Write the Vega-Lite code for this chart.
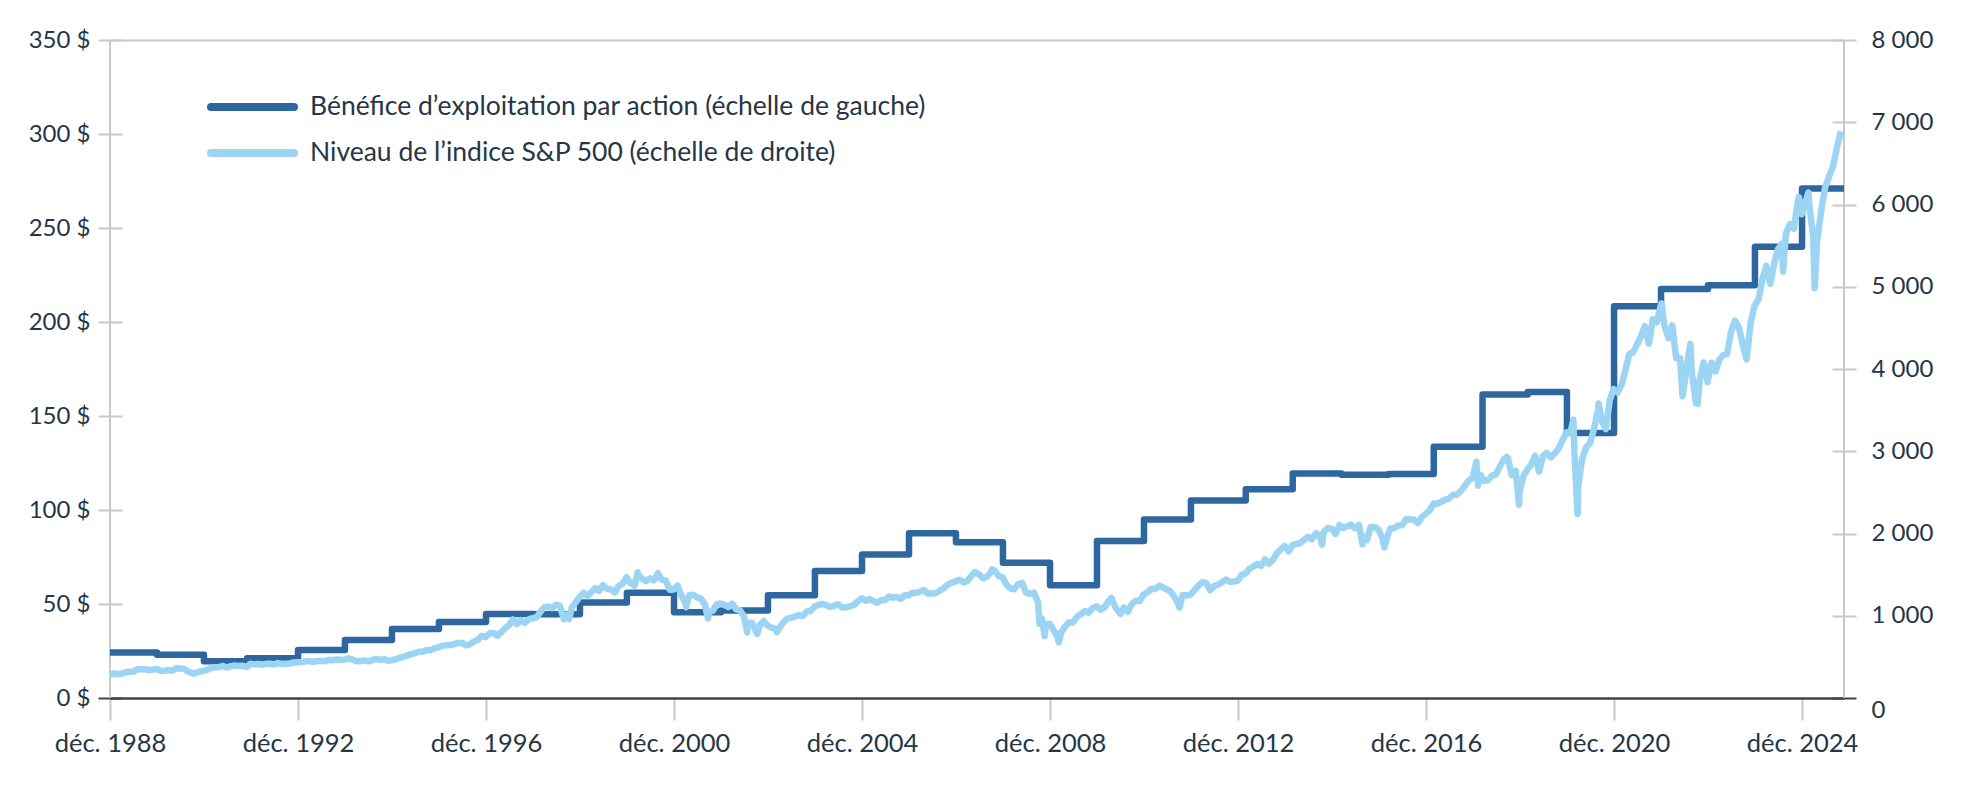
{
 "$schema": "https://vega.github.io/schema/vega-lite/v6.json",
 "width": 1734,
 "height": 658,
 "autosize": {"type": "none"},
 "padding": {"left": 110, "top": 40, "right": 138, "bottom": 92},
 "background": "white",
 "config": {
  "view": {"stroke": null},
  "font": "Lato",
  "axis": {"labelFont": "Lato", "labelFontSize": 24, "labelColor": "#263646", "title": null}
 },
 "datasets": {
  "frame": [{"date": "1988-12-31"}, {"date": "2025-11-22"}],
  "eps": [
   {"date": "1988-12-31", "eps": 24.2},
   {"date": "1989-12-31", "eps": 23},
   {"date": "1990-12-31", "eps": 19.6},
   {"date": "1991-12-01", "eps": 21.2},
   {"date": "1992-12-31", "eps": 25.5},
   {"date": "1993-12-31", "eps": 30.8},
   {"date": "1994-12-31", "eps": 36.7},
   {"date": "1995-12-31", "eps": 40.4},
   {"date": "1996-12-31", "eps": 44.7},
   {"date": "1997-12-31", "eps": 44.6},
   {"date": "1998-12-31", "eps": 50.8},
   {"date": "1999-12-31", "eps": 56},
   {"date": "2000-12-31", "eps": 45.6},
   {"date": "2001-12-31", "eps": 46.6},
   {"date": "2002-12-31", "eps": 54.6},
   {"date": "2003-12-31", "eps": 67.5},
   {"date": "2004-12-31", "eps": 76.3},
   {"date": "2005-12-31", "eps": 87.6},
   {"date": "2006-12-31", "eps": 82.8},
   {"date": "2007-12-31", "eps": 72},
   {"date": "2008-12-31", "eps": 60},
   {"date": "2009-12-31", "eps": 83.5},
   {"date": "2010-12-31", "eps": 95},
   {"date": "2011-12-31", "eps": 105},
   {"date": "2013-03-01", "eps": 111},
   {"date": "2014-03-01", "eps": 119.4},
   {"date": "2015-03-15", "eps": 118.8},
   {"date": "2016-03-15", "eps": 119.2},
   {"date": "2017-03-01", "eps": 133.6},
   {"date": "2018-03-15", "eps": 161.5},
   {"date": "2019-03-01", "eps": 162.7},
   {"date": "2019-12-31", "eps": 141},
   {"date": "2020-12-31", "eps": 208.4},
   {"date": "2021-12-31", "eps": 217.6},
   {"date": "2022-12-31", "eps": 219.5},
   {"date": "2023-12-31", "eps": 240},
   {"date": "2024-12-31", "eps": 271},
   {"date": "2025-11-22", "eps": 271}
  ],
  "spx": [
   {"date":"1988-12-31","spx":277.7},
   {"date":"1989-01-28","spx":297.5},{"date":"1989-02-28","spx":288.9},{"date":"1989-03-28","spx":294.9},{"date":"1989-04-28","spx":309.6},{"date":"1989-05-28","spx":320.5},{"date":"1989-06-28","spx":318.0},{"date":"1989-07-28","spx":346.1},{"date":"1989-08-28","spx":351.5},{"date":"1989-09-28","spx":349.2},{"date":"1989-10-28","spx":340.4},{"date":"1989-11-28","spx":346.0},{"date":"1989-12-28","spx":353.4},
   {"date":"1990-01-28","spx":329.1},{"date":"1990-02-28","spx":331.9},{"date":"1990-03-28","spx":339.9},{"date":"1990-04-28","spx":330.8},{"date":"1990-05-28","spx":361.2},{"date":"1990-06-28","spx":358.0},{"date":"1990-07-28","spx":356.2},{"date":"1990-08-28","spx":322.6},{"date":"1990-09-28","spx":306.1},{"date":"1990-10-11","spx":295.5},{"date":"1990-10-28","spx":304.0},{"date":"1990-11-28","spx":322.2},{"date":"1990-12-28","spx":330.2},
   {"date":"1991-01-28","spx":343.9},{"date":"1991-02-28","spx":367.1},{"date":"1991-03-28","spx":375.2},{"date":"1991-04-28","spx":375.3},{"date":"1991-05-28","spx":389.8},{"date":"1991-06-28","spx":371.2},{"date":"1991-07-28","spx":387.8},{"date":"1991-08-28","spx":395.4},{"date":"1991-09-28","spx":387.9},{"date":"1991-10-28","spx":392.5},{"date":"1991-11-28","spx":375.2},{"date":"1991-12-28","spx":417.1},
   {"date":"1992-01-28","spx":408.8},{"date":"1992-02-28","spx":412.7},{"date":"1992-03-28","spx":403.7},{"date":"1992-04-28","spx":415.0},{"date":"1992-05-28","spx":415.4},{"date":"1992-06-28","spx":408.1},{"date":"1992-07-28","spx":424.2},{"date":"1992-08-28","spx":414.0},{"date":"1992-09-28","spx":417.8},{"date":"1992-10-28","spx":418.7},{"date":"1992-11-28","spx":431.4},{"date":"1992-12-28","spx":435.7},
   {"date":"1993-01-28","spx":438.8},{"date":"1993-02-28","spx":443.4},{"date":"1993-03-28","spx":451.7},{"date":"1993-04-28","spx":440.2},{"date":"1993-05-28","spx":450.2},{"date":"1993-06-28","spx":451.0},{"date":"1993-07-28","spx":448.1},{"date":"1993-08-28","spx":463.6},{"date":"1993-09-28","spx":458.9},{"date":"1993-10-28","spx":467.8},{"date":"1993-11-28","spx":461.8},{"date":"1993-12-28","spx":466.5},
   {"date":"1994-01-28","spx":481.6},{"date":"1994-02-28","spx":467.1},{"date":"1994-03-28","spx":445.8},{"date":"1994-04-28","spx":450.9},{"date":"1994-05-28","spx":456.5},{"date":"1994-06-28","spx":444.3},{"date":"1994-07-28","spx":458.3},{"date":"1994-08-28","spx":475.5},{"date":"1994-09-28","spx":462.7},{"date":"1994-10-28","spx":472.4},{"date":"1994-11-28","spx":453.7},{"date":"1994-12-28","spx":459.3},
   {"date":"1995-01-28","spx":470.4},{"date":"1995-02-28","spx":487.4},{"date":"1995-03-28","spx":500.7},{"date":"1995-04-28","spx":514.7},{"date":"1995-05-28","spx":533.4},{"date":"1995-06-28","spx":544.8},{"date":"1995-07-28","spx":562.1},{"date":"1995-08-28","spx":561.9},{"date":"1995-09-28","spx":584.4},{"date":"1995-10-28","spx":581.5},{"date":"1995-11-28","spx":605.4},{"date":"1995-12-28","spx":615.9},
   {"date":"1996-01-28","spx":636.0},{"date":"1996-02-28","spx":640.4},{"date":"1996-03-28","spx":645.5},{"date":"1996-04-28","spx":654.2},{"date":"1996-05-28","spx":669.1},{"date":"1996-06-28","spx":670.6},{"date":"1996-07-28","spx":640.0},{"date":"1996-08-28","spx":652.0},{"date":"1996-09-28","spx":687.3},{"date":"1996-10-28","spx":705.3},{"date":"1996-11-28","spx":757.0},{"date":"1996-12-28","spx":740.7},
   {"date":"1997-01-28","spx":786.2},{"date":"1997-02-28","spx":790.8},{"date":"1997-03-28","spx":757.1},{"date":"1997-04-28","spx":801.3},{"date":"1997-05-28","spx":848.3},{"date":"1997-06-28","spx":885.1},{"date":"1997-07-28","spx":954.3},{"date":"1997-08-28","spx":899.5},{"date":"1997-09-28","spx":947.3},{"date":"1997-10-28","spx":914.6},{"date":"1997-11-28","spx":955.4},{"date":"1997-12-28","spx":970.4},
   {"date":"1998-01-28","spx":980.3},{"date":"1998-02-28","spx":1049.3},{"date":"1998-03-28","spx":1101.8},{"date":"1998-04-28","spx":1111.8},{"date":"1998-05-28","spx":1090.8},{"date":"1998-06-28","spx":1133.8},{"date":"1998-07-28","spx":1120.7},{"date":"1998-08-28","spx":957.3},{"date":"1998-09-28","spx":1017.0},{"date":"1998-10-08","spx":959.4},{"date":"1998-10-28","spx":1098.7},{"date":"1998-11-28","spx":1163.6},{"date":"1998-12-28","spx":1229.2},
   {"date":"1999-01-28","spx":1279.6},{"date":"1999-02-28","spx":1238.3},{"date":"1999-03-28","spx":1286.4},{"date":"1999-04-28","spx":1335.2},{"date":"1999-05-28","spx":1301.8},{"date":"1999-06-28","spx":1372.7},{"date":"1999-07-28","spx":1328.7},{"date":"1999-08-28","spx":1320.4},{"date":"1999-09-28","spx":1282.7},{"date":"1999-10-28","spx":1362.9},{"date":"1999-11-28","spx":1389.0},{"date":"1999-12-28","spx":1469.3},
   {"date":"2000-01-28","spx":1394.5},{"date":"2000-02-28","spx":1366.4},{"date":"2000-03-24","spx":1527.5},{"date":"2000-03-28","spx":1498.6},{"date":"2000-04-28","spx":1452.4},{"date":"2000-05-28","spx":1420.6},{"date":"2000-06-28","spx":1454.6},{"date":"2000-07-28","spx":1430.8},{"date":"2000-08-28","spx":1517.7},{"date":"2000-09-28","spx":1436.5},{"date":"2000-10-28","spx":1429.4},{"date":"2000-11-28","spx":1315.2},{"date":"2000-12-28","spx":1320.3},
   {"date":"2001-01-28","spx":1366.0},{"date":"2001-02-28","spx":1239.9},{"date":"2001-03-28","spx":1160.3},{"date":"2001-04-04","spx":1103.3},{"date":"2001-04-28","spx":1249.5},{"date":"2001-05-28","spx":1255.8},{"date":"2001-06-28","spx":1224.4},{"date":"2001-07-28","spx":1211.2},{"date":"2001-08-28","spx":1133.6},{"date":"2001-09-21","spx":965.8},{"date":"2001-09-28","spx":1040.9},{"date":"2001-10-28","spx":1059.8},{"date":"2001-11-28","spx":1139.5},{"date":"2001-12-28","spx":1148.1},
   {"date":"2002-01-28","spx":1130.2},{"date":"2002-02-28","spx":1106.7},{"date":"2002-03-28","spx":1147.4},{"date":"2002-04-28","spx":1076.9},{"date":"2002-05-28","spx":1067.1},{"date":"2002-06-28","spx":989.8},{"date":"2002-07-23","spx":797.7},{"date":"2002-07-28","spx":911.6},{"date":"2002-08-28","spx":916.1},{"date":"2002-09-28","spx":815.3},{"date":"2002-10-09","spx":776.8},{"date":"2002-10-28","spx":885.8},{"date":"2002-11-28","spx":936.3},{"date":"2002-12-28","spx":879.8},
   {"date":"2003-01-28","spx":855.7},{"date":"2003-02-28","spx":841.2},{"date":"2003-03-11","spx":800.7},{"date":"2003-03-28","spx":848.2},{"date":"2003-04-28","spx":916.9},{"date":"2003-05-28","spx":963.6},{"date":"2003-06-28","spx":974.5},{"date":"2003-07-28","spx":990.3},{"date":"2003-08-28","spx":1008.0},{"date":"2003-09-28","spx":996.0},{"date":"2003-10-28","spx":1050.7},{"date":"2003-11-28","spx":1058.2},{"date":"2003-12-28","spx":1111.9},
   {"date":"2004-01-28","spx":1131.1},{"date":"2004-02-28","spx":1144.9},{"date":"2004-03-28","spx":1126.2},{"date":"2004-04-28","spx":1107.3},{"date":"2004-05-28","spx":1120.7},{"date":"2004-06-28","spx":1140.8},{"date":"2004-07-28","spx":1101.7},{"date":"2004-08-28","spx":1104.2},{"date":"2004-09-28","spx":1114.6},{"date":"2004-10-28","spx":1130.2},{"date":"2004-11-28","spx":1173.8},{"date":"2004-12-28","spx":1211.9},
   {"date":"2005-01-28","spx":1181.3},{"date":"2005-02-28","spx":1203.6},{"date":"2005-03-28","spx":1180.6},{"date":"2005-04-28","spx":1156.9},{"date":"2005-05-28","spx":1191.5},{"date":"2005-06-28","spx":1191.3},{"date":"2005-07-28","spx":1234.2},{"date":"2005-08-28","spx":1220.3},{"date":"2005-09-28","spx":1228.8},{"date":"2005-10-28","spx":1207.0},{"date":"2005-11-28","spx":1249.5},{"date":"2005-12-28","spx":1248.3},
   {"date":"2006-01-28","spx":1280.1},{"date":"2006-02-28","spx":1280.7},{"date":"2006-03-28","spx":1294.9},{"date":"2006-04-28","spx":1310.6},{"date":"2006-05-28","spx":1270.1},{"date":"2006-06-28","spx":1270.2},{"date":"2006-07-28","spx":1276.7},{"date":"2006-08-28","spx":1303.8},{"date":"2006-09-28","spx":1335.9},{"date":"2006-10-28","spx":1377.9},{"date":"2006-11-28","spx":1400.6},{"date":"2006-12-28","spx":1418.3},
   {"date":"2007-01-28","spx":1438.2},{"date":"2007-02-28","spx":1406.8},{"date":"2007-03-28","spx":1420.9},{"date":"2007-04-28","spx":1482.4},{"date":"2007-05-28","spx":1530.6},{"date":"2007-06-28","spx":1503.4},{"date":"2007-07-28","spx":1455.3},{"date":"2007-08-28","spx":1474.0},{"date":"2007-09-28","spx":1526.8},{"date":"2007-10-09","spx":1565.2},{"date":"2007-10-28","spx":1549.4},{"date":"2007-11-28","spx":1481.1},{"date":"2007-12-28","spx":1468.4},
   {"date":"2008-01-28","spx":1378.6},{"date":"2008-02-28","spx":1330.6},{"date":"2008-03-28","spx":1322.7},{"date":"2008-04-28","spx":1385.6},{"date":"2008-05-28","spx":1400.4},{"date":"2008-06-28","spx":1280.0},{"date":"2008-07-28","spx":1267.4},{"date":"2008-08-28","spx":1282.8},{"date":"2008-09-28","spx":1166.4},{"date":"2008-10-10","spx":899.2},{"date":"2008-10-28","spx":968.8},{"date":"2008-11-20","spx":752.4},{"date":"2008-11-28","spx":896.2},{"date":"2008-12-28","spx":903.3},
   {"date":"2009-01-28","spx":825.9},{"date":"2009-02-28","spx":735.1},{"date":"2009-03-09","spx":676.5},{"date":"2009-03-28","spx":797.9},{"date":"2009-04-28","spx":872.8},{"date":"2009-05-28","spx":919.1},{"date":"2009-06-28","spx":919.3},{"date":"2009-07-28","spx":987.5},{"date":"2009-08-28","spx":1020.6},{"date":"2009-09-28","spx":1057.1},{"date":"2009-10-28","spx":1036.2},{"date":"2009-11-28","spx":1095.6},{"date":"2009-12-28","spx":1115.1},
   {"date":"2010-01-28","spx":1073.9},{"date":"2010-02-28","spx":1104.5},{"date":"2010-03-28","spx":1169.4},{"date":"2010-04-23","spx":1217.3},{"date":"2010-04-28","spx":1186.7},{"date":"2010-05-28","spx":1089.4},{"date":"2010-06-28","spx":1030.7},{"date":"2010-07-02","spx":1022.6},{"date":"2010-07-28","spx":1101.6},{"date":"2010-08-28","spx":1049.3},{"date":"2010-09-28","spx":1141.2},{"date":"2010-10-28","spx":1183.3},{"date":"2010-11-28","spx":1180.6},{"date":"2010-12-28","spx":1257.6},
   {"date":"2011-01-28","spx":1286.1},{"date":"2011-02-28","spx":1327.2},{"date":"2011-03-28","spx":1325.8},{"date":"2011-04-28","spx":1363.6},{"date":"2011-05-28","spx":1345.2},{"date":"2011-06-28","spx":1320.6},{"date":"2011-07-28","spx":1292.3},{"date":"2011-08-28","spx":1218.9},{"date":"2011-09-28","spx":1131.4},{"date":"2011-10-03","spx":1099.2},{"date":"2011-10-28","spx":1253.3},{"date":"2011-11-28","spx":1247.0},{"date":"2011-12-28","spx":1257.6},
   {"date":"2012-01-28","spx":1312.4},{"date":"2012-02-28","spx":1365.7},{"date":"2012-03-28","spx":1408.5},{"date":"2012-04-28","spx":1397.9},{"date":"2012-05-28","spx":1310.3},{"date":"2012-06-28","spx":1362.2},{"date":"2012-07-28","spx":1379.3},{"date":"2012-08-28","spx":1406.6},{"date":"2012-09-28","spx":1440.7},{"date":"2012-10-28","spx":1412.2},{"date":"2012-11-28","spx":1416.2},{"date":"2012-12-28","spx":1426.2},
   {"date":"2013-01-28","spx":1498.1},{"date":"2013-02-28","spx":1514.7},{"date":"2013-03-28","spx":1569.2},{"date":"2013-04-28","spx":1597.6},{"date":"2013-05-28","spx":1630.7},{"date":"2013-06-28","spx":1606.3},{"date":"2013-07-28","spx":1685.7},{"date":"2013-08-28","spx":1633.0},{"date":"2013-09-28","spx":1681.6},{"date":"2013-10-28","spx":1756.5},{"date":"2013-11-28","spx":1805.8},{"date":"2013-12-28","spx":1848.4},
   {"date":"2014-01-28","spx":1782.6},{"date":"2014-02-28","spx":1859.5},{"date":"2014-03-28","spx":1872.3},{"date":"2014-04-28","spx":1884.0},{"date":"2014-05-28","spx":1923.6},{"date":"2014-06-28","spx":1960.2},{"date":"2014-07-28","spx":1930.7},{"date":"2014-08-28","spx":2003.4},{"date":"2014-09-28","spx":1972.3},{"date":"2014-10-15","spx":1862.5},{"date":"2014-10-28","spx":2018.1},{"date":"2014-11-28","spx":2067.6},{"date":"2014-12-28","spx":2058.9},
   {"date":"2015-01-28","spx":1995.0},{"date":"2015-02-28","spx":2104.5},{"date":"2015-03-28","spx":2067.9},{"date":"2015-04-28","spx":2085.5},{"date":"2015-05-28","spx":2107.4},{"date":"2015-06-28","spx":2063.1},{"date":"2015-07-28","spx":2103.8},{"date":"2015-08-25","spx":1867.6},{"date":"2015-08-28","spx":1972.2},{"date":"2015-09-28","spx":1920.0},{"date":"2015-10-28","spx":2079.4},{"date":"2015-11-28","spx":2080.4},{"date":"2015-12-28","spx":2043.9},
   {"date":"2016-01-28","spx":1940.2},{"date":"2016-02-11","spx":1829.1},{"date":"2016-02-28","spx":1932.2},{"date":"2016-03-28","spx":2059.7},{"date":"2016-04-28","spx":2065.3},{"date":"2016-05-28","spx":2097.0},{"date":"2016-06-28","spx":2098.9},{"date":"2016-07-28","spx":2173.6},{"date":"2016-08-28","spx":2171.0},{"date":"2016-09-28","spx":2168.3},{"date":"2016-10-28","spx":2126.2},{"date":"2016-11-28","spx":2199.0},{"date":"2016-12-28","spx":2238.8},
   {"date":"2017-01-28","spx":2278.9},{"date":"2017-02-28","spx":2363.6},{"date":"2017-03-28","spx":2362.7},{"date":"2017-04-28","spx":2384.2},{"date":"2017-05-28","spx":2411.8},{"date":"2017-06-28","spx":2423.4},{"date":"2017-07-28","spx":2470.3},{"date":"2017-08-28","spx":2471.7},{"date":"2017-09-28","spx":2519.4},{"date":"2017-10-28","spx":2575.3},{"date":"2017-11-28","spx":2647.6},{"date":"2017-12-28","spx":2673.6},
   {"date":"2018-01-26","spx":2872.9},{"date":"2018-01-28","spx":2823.8},{"date":"2018-02-08","spx":2581.0},{"date":"2018-02-28","spx":2713.8},{"date":"2018-03-28","spx":2640.9},{"date":"2018-04-28","spx":2648.1},{"date":"2018-05-28","spx":2705.3},{"date":"2018-06-28","spx":2718.4},{"date":"2018-07-28","spx":2816.3},{"date":"2018-08-28","spx":2901.5},{"date":"2018-09-20","spx":2930.8},{"date":"2018-09-28","spx":2914.0},{"date":"2018-10-28","spx":2711.7},{"date":"2018-11-28","spx":2760.2},{"date":"2018-12-24","spx":2351.1},{"date":"2018-12-28","spx":2506.9},
   {"date":"2019-01-28","spx":2704.1},{"date":"2019-02-28","spx":2784.5},{"date":"2019-03-28","spx":2834.4},{"date":"2019-04-28","spx":2945.8},{"date":"2019-05-28","spx":2752.1},{"date":"2019-06-28","spx":2941.8},{"date":"2019-07-28","spx":2980.4},{"date":"2019-08-28","spx":2926.5},{"date":"2019-09-28","spx":2976.7},{"date":"2019-10-28","spx":3037.6},{"date":"2019-11-28","spx":3141.0},{"date":"2019-12-28","spx":3230.8},
   {"date":"2020-01-28","spx":3225.5},{"date":"2020-02-19","spx":3386.2},{"date":"2020-02-28","spx":2954.2},{"date":"2020-03-23","spx":2237.4},{"date":"2020-03-28","spx":2584.6},{"date":"2020-04-28","spx":2912.4},{"date":"2020-05-28","spx":3044.3},{"date":"2020-06-28","spx":3100.3},{"date":"2020-07-28","spx":3271.1},{"date":"2020-08-28","spx":3500.3},{"date":"2020-09-02","spx":3580.8},{"date":"2020-09-28","spx":3363.0},{"date":"2020-10-28","spx":3270.0},{"date":"2020-11-28","spx":3621.6},{"date":"2020-12-28","spx":3756.1},
   {"date":"2021-01-28","spx":3714.2},{"date":"2021-02-28","spx":3811.2},{"date":"2021-03-28","spx":3972.9},{"date":"2021-04-28","spx":4181.2},{"date":"2021-05-28","spx":4204.1},{"date":"2021-06-28","spx":4297.5},{"date":"2021-07-28","spx":4395.3},{"date":"2021-08-28","spx":4522.7},{"date":"2021-09-28","spx":4307.5},{"date":"2021-10-28","spx":4605.4},{"date":"2021-11-28","spx":4567.0},{"date":"2021-12-28","spx":4766.2},
   {"date":"2022-01-03","spx":4796.6},{"date":"2022-01-28","spx":4515.6},{"date":"2022-02-28","spx":4373.9},{"date":"2022-03-28","spx":4530.4},{"date":"2022-04-28","spx":4131.9},{"date":"2022-05-28","spx":4132.2},{"date":"2022-06-16","spx":3666.8},{"date":"2022-06-28","spx":3785.4},{"date":"2022-07-28","spx":4130.3},{"date":"2022-08-16","spx":4305.2},{"date":"2022-08-28","spx":3955.0},{"date":"2022-09-28","spx":3585.6},{"date":"2022-10-12","spx":3577.0},{"date":"2022-10-28","spx":3872.0},{"date":"2022-11-28","spx":4080.1},{"date":"2022-12-28","spx":3839.5},
   {"date":"2023-01-28","spx":4076.6},{"date":"2023-02-28","spx":3970.2},{"date":"2023-03-28","spx":4109.3},{"date":"2023-04-28","spx":4169.5},{"date":"2023-05-28","spx":4179.8},{"date":"2023-06-28","spx":4450.4},{"date":"2023-07-28","spx":4589.0},{"date":"2023-08-28","spx":4507.7},{"date":"2023-09-28","spx":4288.1},{"date":"2023-10-27","spx":4117.4},{"date":"2023-11-28","spx":4567.8},{"date":"2023-12-28","spx":4769.8},
   {"date":"2024-01-28","spx":4845.7},{"date":"2024-02-28","spx":5096.3},{"date":"2024-03-28","spx":5254.4},{"date":"2024-04-28","spx":5035.7},{"date":"2024-05-28","spx":5277.5},{"date":"2024-06-28","spx":5460.5},{"date":"2024-07-28","spx":5522.3},{"date":"2024-08-05","spx":5186.3},{"date":"2024-08-28","spx":5648.4},{"date":"2024-09-28","spx":5762.5},{"date":"2024-10-28","spx":5705.5},{"date":"2024-11-28","spx":6032.4},{"date":"2024-12-06","spx":6090.3},{"date":"2024-12-28","spx":5881.6},
   {"date":"2025-01-28","spx":6040.5},{"date":"2025-02-19","spx":6144.2},{"date":"2025-02-28","spx":5954.5},{"date":"2025-03-28","spx":5611.9},{"date":"2025-04-08","spx":4982.8},{"date":"2025-04-28","spx":5569.1},{"date":"2025-05-28","spx":5911.7},{"date":"2025-06-28","spx":6205.0},{"date":"2025-07-28","spx":6339.4},{"date":"2025-08-28","spx":6460.3},{"date":"2025-09-28","spx":6688.5},{"date":"2025-10-28","spx":6890.9}
  ]
 },
 "layer": [
  {
   "data": {"name": "frame"},
   "mark": {"type": "rule", "color": "#c8c8c8", "strokeWidth": 2},
   "encoding": {
    "x": {
     "field": "date", "type": "temporal",
     "scale": {"type": "utc", "domain": [{"year": 1988, "month": 12, "date": 31, "utc": true}, {"year": 2025, "month": 11, "date": 22, "utc": true}]},
     "axis": {
      "values": [
       {"year": 1988, "month": 12, "date": 31, "utc": true},
       {"year": 1992, "month": 12, "date": 31, "utc": true},
       {"year": 1996, "month": 12, "date": 31, "utc": true},
       {"year": 2000, "month": 12, "date": 31, "utc": true},
       {"year": 2004, "month": 12, "date": 31, "utc": true},
       {"year": 2008, "month": 12, "date": 31, "utc": true},
       {"year": 2012, "month": 12, "date": 31, "utc": true},
       {"year": 2016, "month": 12, "date": 31, "utc": true},
       {"year": 2020, "month": 12, "date": 31, "utc": true},
       {"year": 2024, "month": 12, "date": 31, "utc": true}
      ],
      "labelExpr": "'déc. ' + utcFormat(datum.value, '%Y')",
      "labelFlush": false,
      "labelOverlap": false,
      "labelFontSize": 25.5,
      "grid": false,
      "tickSize": 22,
      "tickWidth": 2,
      "tickColor": "#c8c8c8",
      "domainColor": "#3b4651",
      "domainWidth": 2.5,
      "labelPadding": 11
     }
    }
   }
  },
  {
   "data": {"name": "eps"},
   "mark": {"type": "line", "interpolate": "step-after", "strokeWidth": 6.5, "strokeJoin": "round"},
   "encoding": {
    "x": {"field": "date", "type": "temporal"},
    "y": {
     "field": "eps", "type": "quantitative",
     "scale": {"domain": [0, 350], "nice": false, "zero": true},
     "axis": {
      "orient": "left",
      "values": [0, 50, 100, 150, 200, 250, 300, 350],
      "labelExpr": "datum.value + ' $'",
      "offset": -12,
      "tickSize": 24,
      "tickWidth": 2,
      "tickColor": {"condition": {"test": "datum.value == 0", "value": "#3b4651"}, "value": "#c8c8c8"},
      "domain": false,
      "labelPadding": 8,
      "grid": true,
      "gridColor": "#c8c8c8",
      "gridWidth": 2,
      "gridOpacity": {"condition": {"test": "datum.value == 350", "value": 1}, "value": 0}
     }
    },
    "color": {
     "datum": "Bénéfice d’exploitation par action (échelle de gauche)",
     "scale": {
      "domain": ["Bénéfice d’exploitation par action (échelle de gauche)", "Niveau de l’indice S&P 500 (échelle de droite)"],
      "range": ["#2e66a0", "#9cd4f4"]
     },
     "legend": {
      "orient": "none",
      "legendX": 97,
      "legendY": 52,
      "title": null,
      "direction": "vertical",
      "symbolType": "stroke",
      "symbolSize": 6889,
      "symbolStrokeWidth": 8,
      "clipHeight": 30,
      "rowPadding": 16,
      "labelOffset": 12,
      "labelFontSize": 26.5,
      "labelFont": "Lato",
      "labelColor": "#263646",
      "labelLimit": 1200,
      "padding": 0,
      "encode": {"symbols": {"update": {"strokeCap": {"value": "round"}}}}
     }
    }
   }
  },
  {
   "data": {"name": "spx"},
   "mark": {"type": "line", "strokeWidth": 6.5, "strokeJoin": "round"},
   "encoding": {
    "x": {"field": "date", "type": "temporal"},
    "y": {
     "field": "spx", "type": "quantitative",
     "scale": {"domain": [0, 8000], "nice": false},
     "axis": {
      "orient": "right",
      "values": [0, 1000, 2000, 3000, 4000, 5000, 6000, 7000, 8000],
      "labelExpr": "replace(format(datum.value, ','), ',', ' ')",
      "offset": -12,
      "tickSize": 24,
      "tickWidth": 2,
      "tickColor": {"condition": {"test": "datum.value == 0", "value": "#3b4651"}, "value": "#c8c8c8"},
      "labelBaseline": {"condition": {"test": "datum.value == 0", "value": "top"}, "value": "middle"},
      "domain": false,
      "labelPadding": 15,
      "grid": false
     }
    },
    "color": {"datum": "Niveau de l’indice S&P 500 (échelle de droite)"}
   }
  }
 ],
 "resolve": {"scale": {"y": "independent"}}
}
